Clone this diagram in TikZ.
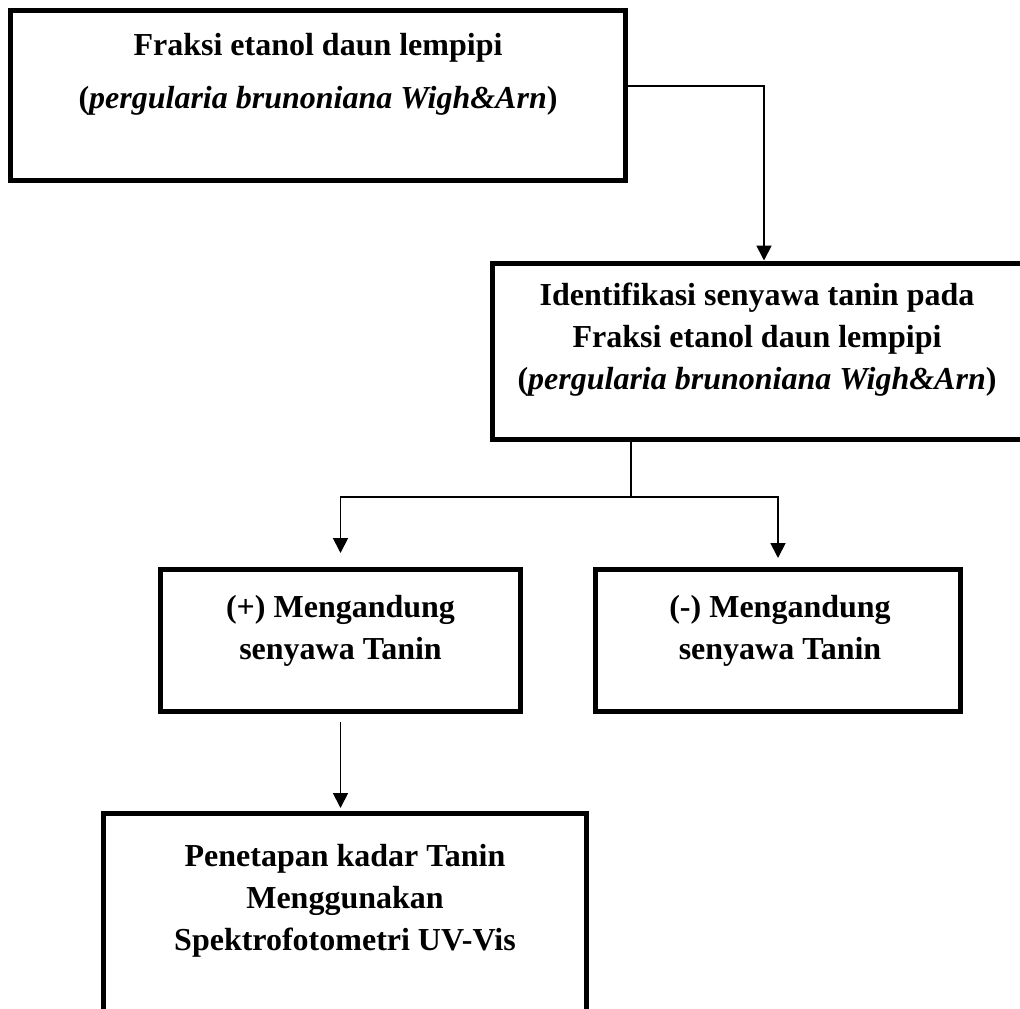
\documentclass[tikz,border=0pt]{standalone}
\usepackage{fontspec}
\setmainfont{Liberation Serif}
\usetikzlibrary{shapes,arrows.meta,calc}
\usetikzlibrary{positioning}

\begin{document}
\begin{tikzpicture}[x=1pt, y=-1pt]
	\tikzset{box/.style={rectangle, draw, line width=5pt}};
	\tikzset{txt/.style={rectangle, align=center, inner sep=0pt, font=\fontsize{32}{42}\selectfont\bfseries}};
	\tikzset{conn/.style={line width=1.8pt}};
	\tikzset{tip/.style={-{Triangle[length=15pt, width=15pt]}}};
	\useasboundingbox (0,0) rectangle (1020,1009);
	\clip (0,0) rectangle (1020,1009);
	% Place nodes
	\node [box, minimum width=615pt, minimum height=170pt] (fraksi) at (318, 95) {};
	\node [txt] (fraksiTxt) at (318, 74) {Fraksi etanol daun lempipi\\[11pt](\textit{pergularia brunoniana Wigh\&Arn})};
	\node [box, minimum width=532.5pt, minimum height=176.5pt] (ident) at (758.75, 351.25) {};
	\node [txt] (identTxt) at (757, 340) {Identifikasi senyawa tanin pada\\Fraksi etanol daun lempipi\\(\textit{pergularia brunoniana Wigh\&Arn})};
	\node [box, minimum width=360pt, minimum height=142pt] (pos) at (340.5, 640.5) {};
	\node [txt] (posTxt) at (340.5, 630.5) {(+) Mengandung\\senyawa Tanin};
	\node [box, minimum width=365pt, minimum height=142pt] (neg) at (778, 640.5) {};
	\node [txt] (negTxt) at (780, 630.5) {(-) Mengandung\\senyawa Tanin};
	\node [box, minimum width=483pt, minimum height=216.5pt] (tanin) at (345, 921.75) {};
	\node [txt] (taninTxt) at (345, 901) {Penetapan kadar Tanin\\Menggunakan\\Spektrofotometri UV-Vis};
	% Place draw
	\coordinate (bend) at (764, 86);
	\draw [conn, tip] (fraksi.east |- bend) -- (bend) -- (bend |- ident.north);
	\coordinate (split) at (631, 497);
	\draw [conn] (ident.south -| split) -- (split);
	\draw [conn, tip, shorten >=14pt] (split) -| (pos.north);
	\draw [conn, tip, shorten >=9pt] (split) -| (neg.north);
	\draw [conn, tip, shorten <=8pt, shorten >=3pt] (pos.south) -- (pos.south |- tanin.north);
\end{tikzpicture}
\end{document}
